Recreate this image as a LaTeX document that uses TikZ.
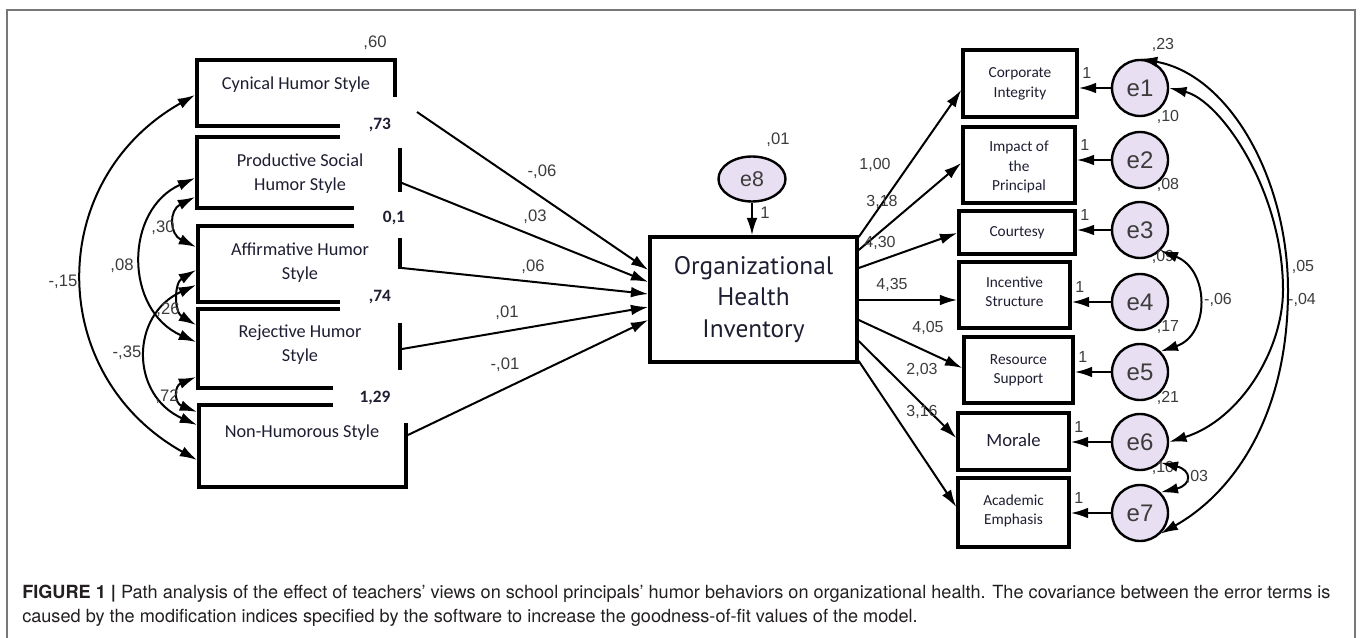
\documentclass[tikz,border=0pt]{standalone}
\usepackage{fontspec}
\setmainfont{Liberation Sans}
\newfontfamily\calfont{Carlito}
\newfontfamily\ohifont{PT Sans}
\newfontfamily\capfont{TeX Gyre Heros}
\usetikzlibrary{arrows.meta,shapes.geometric}
\definecolor{framegray}{RGB}{120,120,120}
\definecolor{numgray}{RGB}{60,60,60}
\definecolor{txtcol}{RGB}{30,30,50}
\definecolor{errfill}{RGB}{232,224,242}
\definecolor{captxt}{RGB}{35,31,32}
\begin{document}
\begin{tikzpicture}[x=0.75pt,y=-0.75pt,
  lbox/.style={draw, line width=2.9pt, inner sep=0pt},
  rbox/.style={draw, line width=2.6pt, inner sep=0pt},
  lt/.style={font=\calfont\fontsize{13.7}{18}\selectfont, align=center, text=txtcol, inner sep=0pt},
  rt/.style={font=\calfont\fontsize{11.5}{14.5}\selectfont, align=center, text=txtcol, inner sep=0pt},
  num/.style={font=\fontsize{12.5}{14}\selectfont, text=numgray, inner sep=0pt},
  rnum/.style={font=\fontsize{12}{14}\selectfont, text=numgray, inner sep=0pt},
  bnum/.style={font=\calfont\bfseries\fontsize{13}{14}\selectfont, text=txtcol, inner sep=0pt},
  err/.style={draw, circle, fill=errfill, line width=1.8pt, minimum size=42pt, inner sep=0pt, font=\fontsize{18}{20}\selectfont, text=numgray},
  pa/.style={line width=1.5pt, -{Latex[length=13pt,width=8pt]}},
  cov/.style={line width=1.5pt, {Latex[length=13pt,width=8pt]}-{Latex[length=13pt,width=8pt]}},
  gap/.style={fill=white, draw=none}
]
\useasboundingbox (0,0) rectangle (1363,638);
% frame
\draw[framegray, line width=1.2pt] (7,638) -- (7,10) -- (1355,10) -- (1355,638);

% left boxes
\node[lbox, minimum width=148.5pt, minimum height=49.5pt] (cyn) at (296,93) {};
\node[lbox, minimum width=152.25pt, minimum height=53.25pt] (prod) at (298.5,172.5) {};
\node[lbox, minimum width=151.5pt, minimum height=57pt] (aff) at (299,264) {};
\node[lbox, minimum width=151.5pt, minimum height=59.25pt] (rej) at (299,348.5) {};
\node[lbox, minimum width=155.25pt, minimum height=61.5pt] (non) at (302.5,446) {};
% white gaps
\fill[gap] (340,97) rectangle (425,148);
\fill[gap] (354,192) rectangle (425,238);
\fill[gap] (340,269) rectangle (425,323);
\fill[gap] (333,370) rectangle (425,423);

\node[lt] (tcyn) at (296,85) {Cynical Humor Style};
\node[lt] (tprod) at (300,174) {Productive Social\\Humor Style};
\node[lt] (taff) at (300,263) {Affirmative Humor\\Style};
\node[lt] (trej) at (300,345) {Rejective Humor\\Style};
\node[lt] (tnon) at (302,433) {Non-Humorous Style};

\node[num] (v1) at (375,43) {,60};
\node[bnum] (v2) at (380,125) {,73};
\node[bnum] (v3) at (394,218) {0,1};
\node[bnum] (v4) at (380,297) {,74};
\node[bnum] (v5) at (375,398) {1,29};

% OHI
\node[draw, line width=2.6pt, minimum width=155.25pt, minimum height=93.75pt, inner sep=0pt,
  font=\ohifont\fontsize{19}{23.5}\selectfont, align=center, text=txtcol] (ohi) at (753.5,299.5)
  {Organizational\\Health\\Inventory};
\node[draw, ellipse, fill=errfill, line width=1.8pt, minimum width=50.25pt, minimum height=33.75pt, inner sep=0pt,
  font=\fontsize{16}{18}\selectfont, text=numgray] (e8) at (752,179) {e8};
\node[num] (v8) at (778,140) {,01};
\draw[pa] (e8) -- (e8 |- ohi.north);
\node[num] (w8) at (765,213) {1};

% regression paths
\coordinate (cynout) at (417,112);
\draw[pa] (cynout) -- (ohi.west |- 0,270);
\draw[pa] (prod.east |- 0,183) -- (ohi.west |- 0,282);
\draw[pa] (aff.east |- 0,268) -- (ohi.west |- 0,294);
\draw[pa] (rej.east |- 0,349) -- (ohi.west |- 0,307);
\draw[pa] (non.east |- 0,435) -- (ohi.west |- 0,320);
\node[num] (p1) at (542,172) {-,06};
\node[num] (p2) at (535,217) {,03};
\node[num] (p3) at (533,267) {,06};
\node[num] (p4) at (507,313) {,01};
\node[num] (p5) at (505,365) {-,01};

% left covariances
\draw[cov] (cyn.west |- 0,95) .. controls (45,180) and (45,375) .. (non.west |- 0,460);
\draw[cov] (prod.west |- 0,178) .. controls (124,210) and (124,310) .. (rej.west |- 0,342);
\draw[cov] (prod.west |- 0,197) .. controls (169,210) and (169,234) .. (aff.west |- 0,247);
\draw[cov] (aff.west |- 0,270) .. controls (174,283) and (174,312) .. (rej.west |- 0,325);
\draw[cov] (aff.west |- 0,285) .. controls (130,315) and (130,395) .. (non.west |- 0,425);
\draw[cov] (rej.west |- 0,377) .. controls (174,386) and (174,403) .. (non.west |- 0,412);
\node[num] (c1) at (63,282) {-,15};
\node[num] (c2) at (122,266) {,08};
\node[num] (c3) at (163,228) {,30};
\node[num] (c4) at (168,310) {,26};
\node[num] (c5) at (127,353) {-,35};
\node[num] (c6) at (167,397) {,72};

% right indicator boxes
\node[rbox, minimum width=85.5pt, minimum height=50.25pt] (ci) at (1020,83.5) {};
\node[rt] at (1020,84) {Corporate\\Integrity};
\node[rbox, minimum width=84pt, minimum height=57pt] (ip) at (1019,165) {};
\node[rt] at (1019,167) {Impact of\\the\\Principal};
\node[rbox, minimum width=87pt, minimum height=32.25pt] (co) at (1017,232.5) {};
\node[rt] at (1017,233) {Courtesy};
\node[rbox, minimum width=83.25pt, minimum height=49.5pt] (is) at (1014.5,295) {};
\node[rt] at (1014.5,292) {Incentive\\Structure};
\node[rbox, minimum width=81.75pt, minimum height=49.5pt] (rs) at (1018.5,370) {};
\node[rt] at (1018.5,370) {Resource\\Support};
\node[rbox, minimum width=83.25pt, minimum height=42.75pt] (mo) at (1013.5,441.5) {};
\node[lt, font=\calfont\fontsize{14}{16}\selectfont] at (1013.5,440) {Morale};
\node[rbox, minimum width=83.25pt, minimum height=51.75pt] (ae) at (1013.5,512.5) {};
\node[rt] at (1013.5,511) {Academic\\Emphasis};

% loadings
\draw[pa] (ohi.east |- 0,237) -- (ci.west |- 0,90);
\draw[pa] (ohi.east |- 0,250) -- (ip.west |- 0,163);
\draw[pa] (ohi.east |- 0,268) -- (co.west |- 0,233);
\draw[pa] (ohi.east |- 0,300) -- (is.west |- 0,300);
\draw[pa] (ohi.east |- 0,320) -- (rs.west |- 0,368);
\draw[pa] (ohi.east |- 0,341) -- (mo.west |- 0,438);
\draw[pa] (ohi.east |- 0,361) -- (ae.west |- 0,507);
\node[rnum] (l1) at (875,165) {1,00};
\node[rnum] (l2) at (882,202) {3,18};
\node[rnum] (l3) at (880,243) {4,30};
\node[rnum] (l4) at (892,285) {4,35};
\node[rnum] (l5) at (928,328) {4,05};
\node[rnum] (l6) at (922,370) {2,03};
\node[rnum] (l7) at (922,412) {3,16};

% error terms
\node[err] (e1) at (1140,88) {e1};
\node[err] (e2) at (1140,160) {e2};
\node[err] (e3) at (1140,230) {e3};
\node[err] (e4) at (1140,302) {e4};
\node[err] (e5) at (1140,372) {e5};
\node[err] (e6) at (1140,442) {e6};
\node[err] (e7) at (1140,513) {e7};
\foreach \e/\b in {e1/ci,e2/ip,e3/co,e4/is,e5/rs,e6/mo,e7/ae}{
  \draw[pa] (\e) -- (\e -| \b.east);
  \node[rnum] at ([xshift=6pt,yshift=11pt]\b.east |- \e) {1};
}
\node[rnum] (u1) at (1163,45) {,23};
\node[rnum] (u2) at (1168,117) {,10};
\node[rnum] (u3) at (1168,185) {,08};
\node[rnum] (u4) at (1163,257) {,09};
\node[rnum] (u5) at (1168,327) {,17};
\node[rnum] (u6) at (1168,398) {,21};
\node[rnum] (u7) at (1163,468) {,10};

% right covariances
\draw[cov] (e1.north) .. controls (1230,75) and (1288,180) .. (1288,290)
  .. controls (1288,420) and (1230,495) .. (e7.south east);
\draw[cov] (e1.east) .. controls (1220,100) and (1283,190) .. (1283,290)
  .. controls (1283,350) and (1240,420) .. (e6.east);
\draw[cov] (e3.south east) .. controls (1210,270) and (1210,335) .. (e5.north east);
\draw[cov] (e6.south east) .. controls (1192,470) and (1192,485) .. (e7.north east);
\node[rnum] (k1) at (1303,267) {,05};
\node[rnum] (k2) at (1302,300) {-,04};
\node[rnum] (k3) at (1218,300) {-,06};
\node[rnum] (k4) at (1197,477) {,03};

% caption
\node[anchor=base west, inner sep=0pt, font=\capfont\fontsize{13.6}{16}\selectfont, text=captxt] (cap1) at (22,598)
  {{\bfseries FIGURE 1 |} Path analysis of the effect of teachers’ views on school principals’ humor behaviors on organizational health. The covariance between the error terms is};
\node[anchor=base west, inner sep=0pt, font=\capfont\fontsize{13.6}{16}\selectfont, text=captxt] (cap2) at (22,622)
  {caused by the modification indices specified by the software to increase the goodness-of-fit values of the model.};
\end{tikzpicture}
\end{document}
